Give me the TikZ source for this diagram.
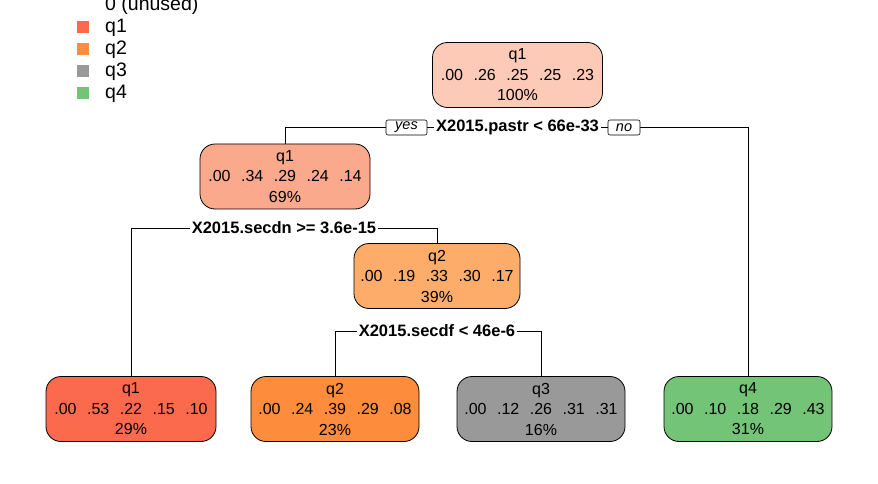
\documentclass[tikz,border=0pt]{standalone}
\usepackage{fontspec}
\setmainfont{Liberation Sans}
\definecolor{croot}{HTML}{FCCAB6}
\definecolor{cntwo}{HTML}{FBA98C}
\definecolor{cnthree}{HTML}{FDAD69}
\definecolor{cqone}{HTML}{FB6A4C}
\definecolor{cqtwo}{HTML}{FD8D3C}
\definecolor{cqthree}{HTML}{999999}
\definecolor{cqfour}{HTML}{73C476}
\newcommand{\nums}[5]{#1\hspace{10.5pt}#2\hspace{10.5pt}#3\hspace{10.5pt}#4\hspace{10.5pt}#5}
\tikzset{
  treebox/.style={draw, line width=0.8pt, rounded corners=15pt, minimum width=170pt, minimum height=65pt,
    align=center, inner sep=0pt, font=\fontsize{16}{20.5}\selectfont},
  splitlab/.style={fill=white, inner sep=2pt, font=\fontsize{16.5}{18}\selectfont\bfseries},
  yesno/.style={draw, fill=white, rounded corners=2pt, line width=0.6pt, minimum height=15pt,
    inner sep=1pt, font=\fontsize{14.5}{15}\selectfont\itshape},
  conn/.style={line width=0.8pt},
  legsq/.style={minimum size=12pt, inner sep=0pt},
  legtxt/.style={anchor=west, inner sep=0pt, font=\fontsize{19.5}{22}\selectfont}
}
\begin{document}
\begin{tikzpicture}[x=1pt,y=-1pt]
\useasboundingbox (0,0) rectangle (878,484);
\fill[white] (0,0) rectangle (878,484);
% legend
\node[legtxt] (l0) at (105,5) {0 (unused)};
\node[legsq, fill=cqone] (s1) at (83,27.5) {};
\node[legtxt] (l1) at (105,27.5) {q1};
\node[legsq, fill=cqtwo] (s2) at (83,49.5) {};
\node[legtxt] (l2) at (105,49.5) {q2};
\node[legsq, fill=cqthree] (s3) at (83,71.5) {};
\node[legtxt] (l3) at (105,71.5) {q3};
\node[legsq, fill=cqfour] (s4) at (83,93.5) {};
\node[legtxt] (l4) at (105,93.5) {q4};
% tree nodes
\node[treebox, fill=croot] (n1) at (517.5,75) {q1\\\nums{.00}{.26}{.25}{.25}{.23}\\100\%};
\node[treebox, fill=cntwo] (n2) at (285,176.5) {q1\\\nums{.00}{.34}{.29}{.24}{.14}\\69\%};
\node[treebox, fill=cnthree, minimum width=166pt] (n3) at (437,276) {q2\\\nums{.00}{.19}{.33}{.30}{.17}\\39\%};
\node[treebox, fill=cqone] (n4) at (131,409) {q1\\\nums{.00}{.53}{.22}{.15}{.10}\\29\%};
\node[treebox, fill=cqtwo, minimum width=168pt] (n5) at (335,409) {q2\\\nums{.00}{.24}{.39}{.29}{.08}\\23\%};
\node[treebox, fill=cqthree, minimum width=168pt] (n6) at (541,409) {q3\\\nums{.00}{.12}{.26}{.31}{.31}\\16\%};
\node[treebox, fill=cqfour, minimum width=168pt] (n7) at (748,409) {q4\\\nums{.00}{.10}{.18}{.29}{.43}\\31\%};
% connectors
\coordinate (j1) at (517.5,127.5);
\coordinate (j2) at (285,228);
\coordinate (j3) at (437,331);
\draw[conn] (n2.north) |- (j1) -| (n7.north);
\draw[conn] (n4.north) |- (j2) -| (n3.north);
\draw[conn] (n5.north) |- (j3) -| (n6.north);
% split labels
\node[splitlab] (t1) at (517.5,127.5) {X2015.pastr < 66e-33};
\node[yesno, minimum width=41pt] (yes) at (406.5,127.5) {yes};
\node[yesno, minimum width=32pt] (no) at (624,127.5) {no};
\node[splitlab] (t2) at (284,228) {X2015.secdn >= 3.6e-15};
\node[splitlab] (t3) at (437,331) {X2015.secdf < 46e-6};
\end{tikzpicture}
\end{document}
